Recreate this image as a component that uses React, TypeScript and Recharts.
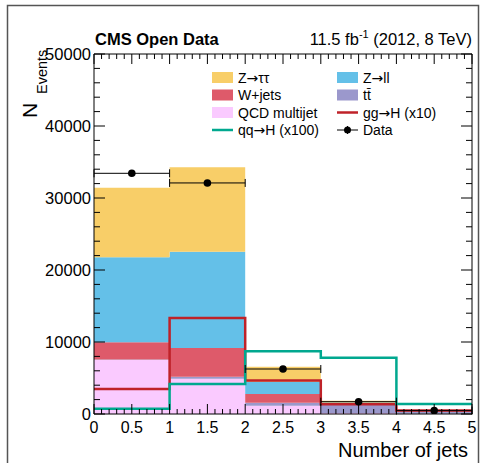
import React from 'react';
import { ComposedChart, Area, Line, Scatter, ErrorBar, XAxis, YAxis } from 'recharts';

// Jet multiplicity histogram: bin edges and per-bin yields (events)
const binEdges = [0, 1, 2, 3, 4, 5];
const qcdYield = [7500, 4900, 1150, 150, 30];
const ttbarYield = [80, 280, 420, 1200, 330];
const wjetsYield = [2380, 3990, 1210, 180, 60];
const zllYield = [11810, 13370, 1710, 70, 30];
const zttYield = [9660, 11730, 2080, 250, 50];
const ggHYield = [3470, 13330, 4650, 1350, 500]; // scaled x10
const qqHYield = [740, 4170, 8720, 7820, 1390]; // scaled x100
const dataCounts = [33430, 32090, 6250, 1710, 470];

const xMajorTicks = [0, 0.5, 1, 1.5, 2, 2.5, 3, 3.5, 4, 4.5, 5];
const yMajorTicks = [0, 10000, 20000, 30000, 40000, 50000];

const W = 488;
const H = 463;
const FONT = '"Liberation Sans", Arial, Helvetica, sans-serif';
const ARROW_FONT = '"DejaVu Sans", sans-serif';

const colors = {
  ztt: '#F8CE68',
  zll: '#64C0E8',
  wjets: '#DE5A6A',
  ttbar: '#9B98CC',
  qcd: '#FACAFF',
  ggH: '#BF2229',
  qqH: '#00A88F',
};

// minor ticks every 0.1 on x, every 2000 on y
const xTicks: number[] = [];
for (let i = 0; i <= 50; i++) xTicks.push(i / 10);
const yTicks: number[] = [];
for (let i = 0; i <= 25; i++) yTicks.push(i * 2000);

const isXMajor = (v: number) => xMajorTicks.some((t) => Math.abs(t - v) < 1e-6);
const isYMajor = (v: number) => yMajorTicks.includes(v);

// step rows: the last edge repeats the final bin so the step closes at x = 5
const histRows = binEdges.map((edge, i) => {
  const b = Math.min(i, qcdYield.length - 1);
  return {
    x: edge,
    qcd: qcdYield[b],
    ttbar: ttbarYield[b],
    wjets: wjetsYield[b],
    zll: zllYield[b],
    ztt: zttYield[b],
    ggH: ggHYield[b],
    qqH: qqHYield[b],
  };
});

const dataPoints = dataCounts.map((n, i) => ({
  x: (binEdges[i] + binEdges[i + 1]) / 2,
  n,
  ex: (binEdges[i + 1] - binEdges[i]) / 2,
}));

const XTick = (props: any) => {
  const { x, y, payload, side } = props;
  const major = isXMajor(payload.value);
  const len = major ? 10 : 5;
  const dir = side === 'bottom' ? -1 : 1;
  return (
    <g>
      <line x1={x} y1={y} x2={x} y2={y + dir * len} stroke="#000" strokeWidth={1} />
      {side === 'bottom' && major && (
        <text x={x} y={y + 19} textAnchor="middle" fontSize={16} fontFamily={FONT} fill="#000">
          {String(payload.value)}
        </text>
      )}
    </g>
  );
};

const YTick = (props: any) => {
  const { x, y, payload, side } = props;
  const major = isYMajor(payload.value);
  const len = major ? 11 : 6;
  const dir = side === 'left' ? 1 : -1;
  return (
    <g>
      <line x1={x} y1={y} x2={x + dir * len} y2={y} stroke="#000" strokeWidth={1} />
      {side === 'left' && major && (
        <text x={x - 3} y={y + 6} textAnchor="end" fontSize={16.5} fontFamily={FONT} fill="#000">
          {String(payload.value)}
        </text>
      )}
    </g>
  );
};

const Arrow = () => <tspan fontFamily={ARROW_FONT}>→</tspan>;

type LegendItem = { label: React.ReactNode; kind: 'box' | 'line' | 'data'; color: string };

const legendCols: LegendItem[][] = [
  [
    { label: <>Z<Arrow />ττ</>, kind: 'box', color: colors.ztt },
    { label: 'W+jets', kind: 'box', color: colors.wjets },
    { label: 'QCD multijet', kind: 'box', color: colors.qcd },
    { label: <>qq<Arrow />H (x100)</>, kind: 'line', color: colors.qqH },
  ],
  [
    { label: <>Z<Arrow />ll</>, kind: 'box', color: colors.zll },
    { label: 'tt\u0304', kind: 'box', color: colors.ttbar },
    { label: <>gg<Arrow />H (x10)</>, kind: 'line', color: colors.ggH },
    { label: 'Data', kind: 'data', color: '#000' },
  ],
];

const legendX = [212, 337];
const legendRowY = [77.5, 95, 112.5, 130];

const Overlay = () => (
  <svg width={W} height={H} style={{ position: 'absolute', left: 0, top: 0, pointerEvents: 'none' }}>
    <rect x={7.5} y={5.5} width={471} height={480} fill="none" stroke="#555" strokeWidth={1.5} />
    <text x={95} y={45} fontSize={16.5} fontWeight="bold" fontFamily={FONT} fill="#000">
      CMS Open Data
    </text>
    <text x={472} y={45} fontSize={16.5} textAnchor="end" fontFamily={FONT} fill="#000">
      11.5 fb
      <tspan fontSize={11} dy={-7}>-1</tspan>
      <tspan dy={7}> (2012, 8 TeV)</tspan>
    </text>
    <text transform="translate(37,118) rotate(-90)" fontSize={21} fontFamily={FONT} fill="#000">
      N
    </text>
    <text transform="translate(47,94) rotate(-90)" fontSize={14.5} fontFamily={FONT} fill="#000">
      Events
    </text>
    <text x={468} y={456.5} fontSize={20} textAnchor="end" fontFamily={FONT} fill="#000">
      Number of jets
    </text>
    {legendCols.map((col, ci) =>
      col.map((item, ri) => {
        const x0 = legendX[ci];
        const cy = legendRowY[ri];
        return (
          <g key={`${ci}-${ri}`}>
            {item.kind === 'box' && <rect x={x0} y={cy - 5.5} width={21} height={11} fill={item.color} />}
            {item.kind === 'line' && (
              <line x1={x0} y1={cy} x2={x0 + 21} y2={cy} stroke={item.color} strokeWidth={2.5} />
            )}
            {item.kind === 'data' && (
              <g>
                <line x1={x0} y1={cy} x2={x0 + 21} y2={cy} stroke="#000" strokeWidth={1} />
                <line x1={x0 + 10.5} y1={cy - 4} x2={x0 + 10.5} y2={cy + 4} stroke="#000" strokeWidth={1} />
                <circle cx={x0 + 10.5} cy={cy} r={3.5} fill="#000" />
              </g>
            )}
            <text x={x0 + 26} y={cy + 5} fontSize={14} fontFamily={FONT} fill="#000">
              {item.label}
            </text>
          </g>
        );
      })
    )}
  </svg>
);

const axisCommon = {
  type: 'number' as const,
  allowDataOverflow: true,
  interval: 0 as const,
  tickSize: 0,
  tickMargin: 0,
  tickLine: false,
  axisLine: { stroke: '#000' },
};

export default function App() {
  return (
    <div style={{ position: 'absolute', left: 0, top: 0, width: W, height: H, background: '#fff', fontFamily: FONT }}>
      <ComposedChart width={W} height={H} data={histRows} margin={{ top: 53, right: 15, bottom: 48, left: 93 }}>
        <Area type="stepAfter" dataKey="qcd" stackId="mc" fill={colors.qcd} fillOpacity={1} stroke="none" isAnimationActive={false} />
        <Area type="stepAfter" dataKey="ttbar" stackId="mc" fill={colors.ttbar} fillOpacity={1} stroke="none" isAnimationActive={false} />
        <Area type="stepAfter" dataKey="wjets" stackId="mc" fill={colors.wjets} fillOpacity={1} stroke="none" isAnimationActive={false} />
        <Area type="stepAfter" dataKey="zll" stackId="mc" fill={colors.zll} fillOpacity={1} stroke="none" isAnimationActive={false} />
        <Area type="stepAfter" dataKey="ztt" stackId="mc" fill={colors.ztt} fillOpacity={1} stroke="none" isAnimationActive={false} />
        <Line type="stepAfter" dataKey="ggH" stroke={colors.ggH} strokeWidth={2.5} dot={false} activeDot={false} isAnimationActive={false} />
        <Line type="stepAfter" dataKey="qqH" stroke={colors.qqH} strokeWidth={2.5} dot={false} activeDot={false} isAnimationActive={false} />
        <Scatter
          data={dataPoints}
          dataKey="n"
          isAnimationActive={false}
          shape={(p: any) => <circle cx={p.cx} cy={p.cy} r={3.8} fill="#000" />}
        >
          <ErrorBar dataKey="ex" direction="x" width={4} stroke="#000" strokeWidth={1} />
        </Scatter>
        <XAxis
          {...axisCommon}
          dataKey="x"
          domain={[0, 5]}
          ticks={xTicks}
          height={1}
          tick={(p: any) => <XTick {...p} side="bottom" />}
        />
        <XAxis
          {...axisCommon}
          xAxisId="top"
          orientation="top"
          dataKey="x"
          domain={[0, 5]}
          ticks={xTicks}
          height={1}
          tick={(p: any) => <XTick {...p} side="top" />}
        />
        <YAxis
          {...axisCommon}
          domain={[0, 50000]}
          ticks={yTicks}
          width={1}
          tick={(p: any) => <YTick {...p} side="left" />}
        />
        <YAxis
          {...axisCommon}
          yAxisId="right"
          orientation="right"
          domain={[0, 50000]}
          ticks={yTicks}
          width={1}
          tick={(p: any) => <YTick {...p} side="right" />}
        />
      </ComposedChart>
      <Overlay />
    </div>
  );
}
